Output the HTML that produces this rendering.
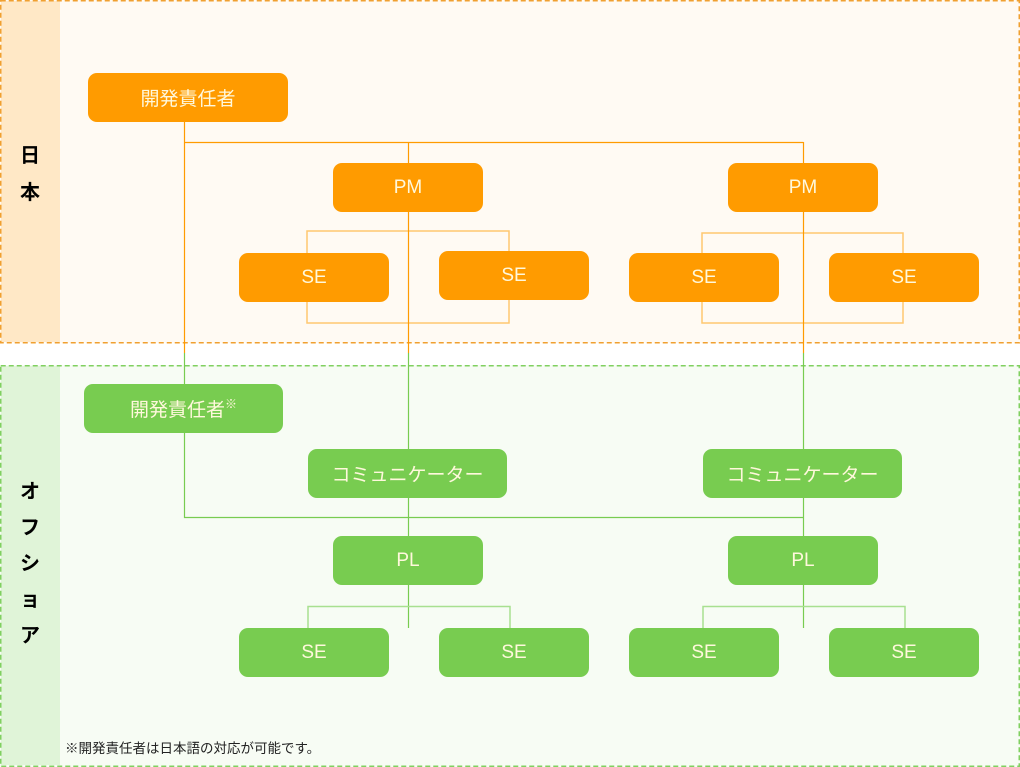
<!DOCTYPE html>
<html><head><meta charset="utf-8"><style>
body{margin:0;width:1020px;height:767px;position:relative;background:#fff;font-family:"Liberation Sans","Noto Sans CJK JP",sans-serif;overflow:hidden}
.a{position:absolute}
.b{position:absolute;border-radius:9px;color:#fff8dc;font-size:19px;display:flex;align-items:center;justify-content:center}
.o{background:#ff9b00}.g{background:#78cc50}
.lab{position:absolute;left:0;width:60px;text-align:center;font-weight:bold;font-size:20px;color:#000}
</style></head><body>
<div class="a" style="left:0;top:0;width:1020px;height:343px;background:#fffaf3"></div>
<div class="a" style="left:1px;top:1px;width:59px;height:341px;background:#ffe8c6"></div>
<div class="a" style="left:0;top:365px;width:1020px;height:402px;background:#f7fcf4"></div>
<div class="a" style="left:1px;top:366px;width:59px;height:399px;background:#e0f4d8"></div>
<div class="lab" style="top:138px;line-height:37px">日<br>本</div>
<div class="lab" style="top:474px;line-height:36px">オ<br>フ<br>シ<br>ョ<br>ア</div>
<svg class="a" style="left:0;top:0" width="1020" height="767">
<rect x="0.75" y="0.75" width="1018.5" height="342" fill="none" stroke="#f0a030" stroke-width="1.5" stroke-dasharray="5 3"/>
<rect x="0.75" y="365.75" width="1018.5" height="400.5" fill="none" stroke="#80d060" stroke-width="1.5" stroke-dasharray="5 3"/>
<g fill="none" stroke="#ffc870" stroke-width="1.5">
<rect x="307" y="231" width="202" height="92"/><rect x="702" y="233" width="201" height="90"/>
</g>
<g stroke="#ff9b00" stroke-width="1.2" fill="none">
<path d="M184.5 122V353M184.5 142.5H803.5M408.5 142V353M803.5 142V353"/>
</g>
<g stroke="#78cc50" stroke-width="1.2" fill="none">
<path d="M184.5 353V517.5H803.5M408.5 353V628M803.5 353V628"/>
</g>
<g stroke="#a8e090" stroke-width="1.5" fill="none">
<path d="M308 628V606.5H510V628M703 628V606.5H905V628"/>
</g>
</svg>
<div class="b o" style="left:88px;top:73px;width:200px;height:49px">開発責任者</div>
<div class="b o" style="left:333px;top:163px;width:150px;height:49px">PM</div>
<div class="b o" style="left:728px;top:163px;width:150px;height:49px">PM</div>
<div class="b o" style="left:239px;top:253px;width:150px;height:49px">SE</div>
<div class="b o" style="left:439px;top:251px;width:150px;height:49px">SE</div>
<div class="b o" style="left:629px;top:253px;width:150px;height:49px">SE</div>
<div class="b o" style="left:829px;top:253px;width:150px;height:49px">SE</div>
<div class="b g" style="left:84px;top:384px;width:199px;height:49px">開発責任者<sup style="font-size:12px;margin-top:-10px">※</sup></div>
<div class="b g" style="left:308px;top:449px;width:199px;height:49px">コミュニケーター</div>
<div class="b g" style="left:703px;top:449px;width:199px;height:49px">コミュニケーター</div>
<div class="b g" style="left:333px;top:536px;width:150px;height:49px">PL</div>
<div class="b g" style="left:728px;top:536px;width:150px;height:49px">PL</div>
<div class="b g" style="left:239px;top:628px;width:150px;height:49px">SE</div>
<div class="b g" style="left:439px;top:628px;width:150px;height:49px">SE</div>
<div class="b g" style="left:629px;top:628px;width:150px;height:49px">SE</div>
<div class="b g" style="left:829px;top:628px;width:150px;height:49px">SE</div>
<div class="a" style="left:65px;top:737px;font-size:13.5px;color:#222">※開発責任者は日本語の対応が可能です。</div>
</body></html>
